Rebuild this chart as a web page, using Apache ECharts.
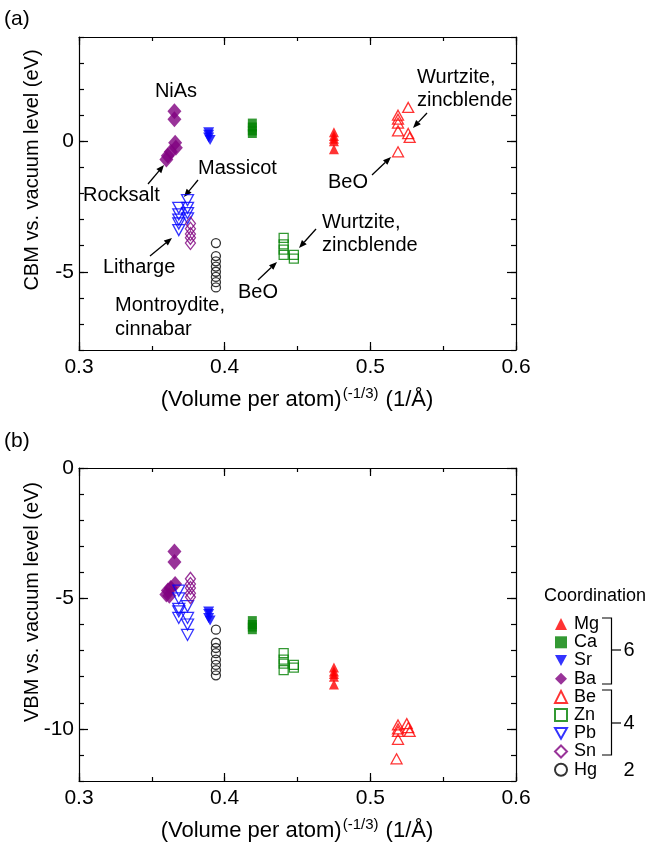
<!DOCTYPE html>
<html><head><meta charset="utf-8">
<script src="https://cdn.jsdelivr.net/npm/echarts@6/dist/echarts.min.js"></script>
<style>html,body{margin:0;padding:0;background:#fff}#c{width:649px;height:845px}</style>
</head><body><div id="c"></div>
<script>
const FONT = "'Liberation Sans', Arial, Helvetica, sans-serif";

// tick labels
const xTickLabels = [0.3, 0.4, 0.5, 0.6];
const cbmTickLabels = [0, -5];
const vbmTickLabels = [0, -5, -10];

// groups (legend order)
const groups = ['Mg', 'Ca', 'Sr', 'Ba', 'Be', 'Zn', 'Pb', 'Sn', 'Hg'];

// Panel (a): CBM vs vacuum level  [x = (volume per atom)^(-1/3), y = eV]
const mgCBM = [[0.475, 0.35], [0.475, 0.2], [0.475, 0.1], [0.475, 0.0], [0.475, -0.3]];
const caCBM = [[0.419, 0.7], [0.419, 0.55], [0.419, 0.4], [0.419, 0.3]];
const srCBM = [[0.389, 0.35], [0.389, 0.25], [0.389, 0.15], [0.390, 0.05]];
const baCBM = [[0.3655, 1.15], [0.3655, 0.85], [0.366, -0.05], [0.3665, -0.25], [0.363, -0.4], [0.361, -0.55], [0.360, -0.7]];
const beCBM = [[0.526, 1.3], [0.519, 1.0], [0.519, 0.85], [0.519, 0.7], [0.519, 0.4], [0.526, 0.3], [0.527, 0.15], [0.519, -0.4]];
const znCBM = [[0.4405, -3.7], [0.4405, -3.95], [0.4405, -4.15], [0.4405, -4.35], [0.4475, -4.35], [0.4475, -4.5]];
const pbCBM = [[0.3745, -2.25], [0.3745, -2.55], [0.3745, -2.75], [0.3745, -2.95], [0.3685, -2.55], [0.3685, -2.8], [0.3685, -3.0], [0.3685, -3.15], [0.3685, -3.4]];
const snCBM = [[0.3765, -3.15], [0.3765, -3.35], [0.3765, -3.55], [0.3765, -3.7], [0.3765, -3.9]];
const hgCBM = [[0.394, -3.9], [0.394, -4.4], [0.394, -4.6], [0.394, -4.8], [0.394, -5.0], [0.394, -5.2], [0.394, -5.4], [0.394, -5.6]];

// Panel (b): VBM vs vacuum level
const mgVBM = [[0.475, -7.65], [0.475, -7.8], [0.475, -7.9], [0.475, -8.0], [0.475, -8.3]];
const caVBM = [[0.419, -5.85], [0.419, -6.0], [0.419, -6.1], [0.419, -6.2]];
const srVBM = [[0.389, -5.5], [0.389, -5.6], [0.389, -5.75], [0.390, -5.85]];
const baVBM = [[0.3655, -3.2], [0.3655, -3.6], [0.366, -4.45], [0.363, -4.6], [0.361, -4.7], [0.360, -4.85], [0.362, -4.9]];
const beVBM = [[0.525, -9.8], [0.519, -9.85], [0.519, -10.0], [0.519, -10.1], [0.519, -10.4], [0.526, -9.95], [0.527, -10.1], [0.518, -11.15]];
const znVBM = [[0.4405, -7.1], [0.4405, -7.35], [0.4405, -7.5], [0.4405, -7.75], [0.4475, -7.55], [0.4475, -7.65]];
const pbVBM = [[0.3685, -4.7], [0.3685, -5.0], [0.3685, -5.4], [0.3685, -5.5], [0.3685, -5.75], [0.3745, -5.3], [0.3745, -5.75], [0.3745, -6.0], [0.3745, -6.4]];
const snVBM = [[0.3765, -4.25], [0.3765, -4.45], [0.3765, -4.6], [0.3765, -4.8], [0.3765, -4.95]];
const hgVBM = [[0.394, -6.2], [0.394, -6.7], [0.394, -6.9], [0.394, -7.1], [0.394, -7.35], [0.394, -7.55], [0.394, -7.75], [0.394, -7.95]];

const cbmData = {Mg: mgCBM, Ca: caCBM, Sr: srCBM, Ba: baCBM, Be: beCBM, Zn: znCBM, Pb: pbCBM, Sn: snCBM, Hg: hgCBM};
const vbmData = {Mg: mgVBM, Ca: caVBM, Sr: srVBM, Ba: baVBM, Be: beVBM, Zn: znVBM, Pb: pbVBM, Sn: snVBM, Hg: hgVBM};

const DOWN_TRI = 'path://M0,0L10,0L5,9Z';
const styles = {
  Mg: {symbol: 'triangle', rot: 0, size: [10, 10], color: '#ff0000', filled: true},
  Ca: {symbol: 'rect', rot: 0, size: [9, 9], color: '#008000', filled: true},
  Sr: {symbol: DOWN_TRI, rot: 0, size: [11, 10], color: '#0000ff', filled: true},
  Ba: {symbol: 'diamond', rot: 0, size: [14, 16], color: '#800080', filled: true},
  Be: {symbol: 'triangle', rot: 0, size: [11, 10], color: '#ff0000', filled: false},
  Zn: {symbol: 'rect', rot: 0, size: [9, 9], color: '#008000', filled: false},
  Pb: {symbol: DOWN_TRI, rot: 0, size: [12, 11], color: '#0000ff', filled: false},
  Sn: {symbol: 'diamond', rot: 0, size: [10, 13], color: '#800080', filled: false},
  Hg: {symbol: 'circle', rot: 0, size: [9, 9], color: '#000000', filled: false}
};

function makeSeries(name, data, xi, yi) {
  const s = styles[name];
  return {
    type: 'scatter', name: name, data: data,
    xAxisIndex: xi, yAxisIndex: yi,
    symbol: s.symbol, symbolRotate: s.rot, symbolSize: s.size,
    itemStyle: s.filled ? {color: s.color} : {color: 'rgba(255,255,255,0)', borderColor: s.color, borderWidth: 1.3},
    emphasis: {disabled: true}, silent: true
  };
}

const AX = {color: '#000', width: 1.2};
function xAxesFor(grid, labels) {
  const base = {type: 'value', gridIndex: grid, min: 0.3, max: 0.6, splitLine: {show: false}};
  return [
    Object.assign({}, base, {position: 'bottom', interval: 0.1,
      axisLine: {show: true, onZero: false, lineStyle: AX},
      axisTick: {show: true, inside: true, length: 8, lineStyle: AX},
      axisLabel: {show: labels, margin: 7, fontSize: 21, fontFamily: FONT, color: '#000',
        formatter: v => { const r = Math.round(v * 10) / 10; return xTickLabels.some(t => Math.abs(t - r) < 1e-6) ? r.toFixed(1) : ''; }}}),
    Object.assign({}, base, {position: 'bottom', interval: 0.05,
      axisLine: {show: false, onZero: false}, axisTick: {show: true, inside: true, length: 4, lineStyle: AX}, axisLabel: {show: false}}),
    Object.assign({}, base, {position: 'top', interval: 0.1,
      axisLine: {show: true, onZero: false, lineStyle: AX}, axisTick: {show: true, inside: true, length: 8, lineStyle: AX}, axisLabel: {show: false}}),
    Object.assign({}, base, {position: 'top', interval: 0.05,
      axisLine: {show: false, onZero: false}, axisTick: {show: true, inside: true, length: 4, lineStyle: AX}, axisLabel: {show: false}})
  ];
}
function yAxesFor(grid, min, max, majors) {
  const base = {type: 'value', gridIndex: grid, min: min, max: max, interval: 1, splitLine: {show: false}};
  return [
    Object.assign({}, base, {position: 'left',
      axisLine: {show: true, onZero: false, lineStyle: AX}, axisTick: {show: true, inside: true, length: 5, lineStyle: AX}, axisLabel: {show: false}}),
    Object.assign({}, base, {position: 'left',
      axisLine: {show: false, onZero: false},
      axisTick: {show: true, inside: true, length: 9, lineStyle: AX, customValues: majors},
      axisLabel: {show: true, margin: 5, fontSize: 21, fontFamily: FONT, color: '#000', customValues: majors, formatter: v => String(v)}}),
    Object.assign({}, base, {position: 'right',
      axisLine: {show: true, onZero: false, lineStyle: AX}, axisTick: {show: true, inside: true, length: 5, lineStyle: AX}, axisLabel: {show: false}}),
    Object.assign({}, base, {position: 'right',
      axisLine: {show: false, onZero: false},
      axisTick: {show: true, inside: true, length: 9, lineStyle: AX, customValues: majors}, axisLabel: {show: false}})
  ];
}

const series = [];
groups.forEach(g => series.push(makeSeries(g, cbmData[g], 0, 0)));
groups.forEach(g => series.push(makeSeries(g, vbmData[g], 4, 4)));

function txt(x, y, text, opts) {
  return Object.assign({type: 'text', x: x, y: y, silent: true,
    style: Object.assign({text: text, fontSize: 20, fontFamily: FONT, fill: '#000', textAlign: 'left', textVerticalAlign: 'middle'}, opts || {})});
}
function arrow(x1, y1, x2, y2) {
  const a = Math.atan2(y2 - y1, x2 - x1), L = 8, W = 3.2;
  const bx = x2 - L * Math.cos(a), by = y2 - L * Math.sin(a);
  return [
    {type: 'line', silent: true, shape: {x1: x1, y1: y1, x2: bx, y2: by}, style: {stroke: '#000', lineWidth: 1.3}},
    {type: 'polygon', silent: true, shape: {points: [[x2, y2], [bx + W * Math.sin(a), by - W * Math.cos(a)], [bx - W * Math.sin(a), by + W * Math.cos(a)]]}, style: {fill: '#000'}}
  ];
}
const xTitleRich = {
  a: {fontSize: 22, fontFamily: FONT, fill: '#000'},
  s: {fontSize: 15, fontFamily: FONT, fill: '#000', padding: [0, 1, 13, 1]}
};
const xTitle = '{a|(Volume per atom)}{s|(-1/3)}{a| (1/Å)}';

const graphics = [
  txt(4, 19, '(a)', {fontSize: 21}),
  txt(4, 441, '(b)', {fontSize: 21}),
  {type: 'text', x: 32, y: 170, rotation: Math.PI / 2, silent: true,
    style: {text: 'CBM vs. vacuum level (eV)', fontSize: 20, fontFamily: FONT, fill: '#000', textAlign: 'center', textVerticalAlign: 'middle'}},
  {type: 'text', x: 32, y: 602, rotation: Math.PI / 2, silent: true,
    style: {text: 'VBM vs. vacuum level (eV)', fontSize: 20, fontFamily: FONT, fill: '#000', textAlign: 'center', textVerticalAlign: 'middle'}},
  {type: 'text', x: 297, y: 400, silent: true, style: {text: xTitle, rich: xTitleRich, textAlign: 'center', textVerticalAlign: 'middle'}},
  {type: 'text', x: 297, y: 831, silent: true, style: {text: xTitle, rich: xTitleRich, textAlign: 'center', textVerticalAlign: 'middle'}},
  // annotations panel (a)
  txt(176, 91, 'NiAs', {textAlign: 'center'}),
  txt(83, 195, 'Rocksalt'),
  ...arrow(148, 184, 164, 165),
  txt(198, 168, 'Massicot'),
  ...arrow(198, 180, 184, 197),
  txt(103, 267, 'Litharge'),
  ...arrow(150, 256, 172, 238),
  txt(115, 305, 'Montroydite,'),
  txt(115, 329, 'cinnabar'),
  txt(238, 292, 'BeO'),
  ...arrow(258, 280, 277, 262),
  txt(322, 222, 'Wurtzite,'),
  txt(322, 245, 'zincblende'),
  ...arrow(316, 229, 299, 248),
  txt(417, 77, 'Wurtzite,'),
  txt(417, 100, 'zincblende'),
  ...arrow(427, 113, 413, 128),
  txt(328, 182, 'BeO'),
  ...arrow(372, 175, 391, 157),
  // legend title and brackets
  txt(544, 596, 'Coordination', {fontSize: 18}),
  {type: 'polyline', silent: true, shape: {points: [[602, 618], [611.5, 618], [611.5, 684], [602, 684]]}, style: {stroke: '#000', lineWidth: 1.2, fill: null}},
  {type: 'line', silent: true, shape: {x1: 611.5, y1: 650, x2: 621, y2: 650}, style: {stroke: '#000', lineWidth: 1.2}},
  txt(629, 650, '6', {textAlign: 'center', fontSize: 20}),
  {type: 'polyline', silent: true, shape: {points: [[602, 690], [611.5, 690], [611.5, 755], [602, 755]]}, style: {stroke: '#000', lineWidth: 1.2, fill: null}},
  {type: 'line', silent: true, shape: {x1: 611.5, y1: 723, x2: 621, y2: 723}, style: {stroke: '#000', lineWidth: 1.2}},
  txt(629, 723, '4', {textAlign: 'center', fontSize: 20}),
  txt(629, 770, '2', {textAlign: 'center', fontSize: 20})
];

const chart = echarts.init(document.getElementById('c'), null, {renderer: 'canvas'});
chart.setOption({
  animation: false,
  backgroundColor: '#fff',
  grid: [
    {left: 79, top: 37, width: 437, height: 313},
    {left: 79, top: 468, width: 437, height: 313}
  ],
  xAxis: [...xAxesFor(0, true), ...xAxesFor(1, true)],
  yAxis: [...yAxesFor(0, -8, 4, cbmTickLabels), ...yAxesFor(1, -12, 0, vbmTickLabels)],
  legend: {
    orient: 'vertical', left: 549, top: 610, itemWidth: 12, itemHeight: 12, itemGap: 0,
    textStyle: {fontSize: 18, fontFamily: FONT, color: '#000', lineHeight: 18.2, padding: [0, 0, 0, 2]},
    data: groups.map(g => ({name: g, icon: styles[g].symbol})), selectedMode: false
  },
  series: series,
  graphic: graphics
});
</script></body></html>
